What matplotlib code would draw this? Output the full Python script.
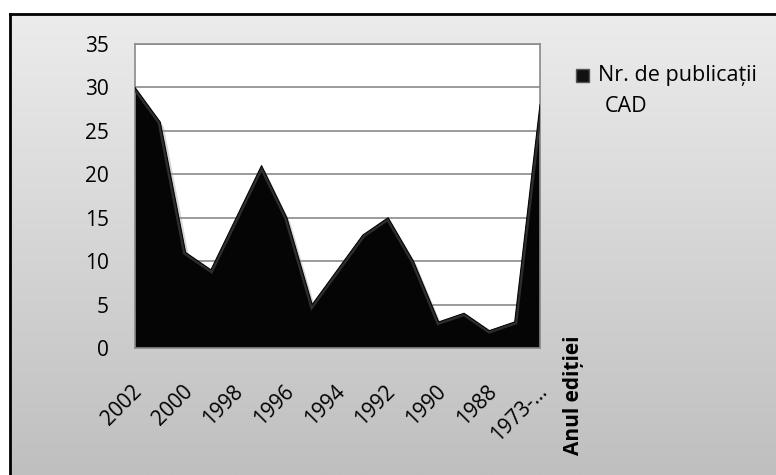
import numpy as np
import matplotlib.pyplot as plt
import matplotlib.transforms as mtransforms
from matplotlib.patches import Rectangle, Polygon
from matplotlib.colors import LinearSegmentedColormap

plt.rcParams['font.family'] = ['Open Sans', 'DejaVu Sans']

# Nr. de publicatii CAD pe an (citit din grafic)
ani = ['2002', '2001', '2000', '1999', '1998', '1997', '1996', '1995', '1994',
       '1993', '1992', '1991', '1990', '1989', '1988', '1987', '1973-…']
publicatii = [30, 26, 11, 9, 15, 21, 15, 5, 9, 13, 15, 10, 3, 4, 2, 3, 28]
y_ticks = [0, 5, 10, 15, 20, 25, 30, 35]

fig = plt.figure(figsize=(7.76, 4.75), dpi=100)
fig.patch.set_facecolor('white')

# fundal cu gradient (chenarul graficului)
bg = fig.add_axes([10 / 776, 0, 1 - 10 / 776, 1 - 14 / 475], zorder=0)
grad = np.linspace(0, 1, 256).reshape(-1, 1)
bg.imshow(grad, aspect='auto', cmap=LinearSegmentedColormap.from_list('g', ['#ececec', '#bfbfbf']),
          extent=[0, 1, 0, 1], origin='upper')
bg.axis('off')
fig.add_artist(plt.Line2D([10 / 776, 10 / 776], [0, 1 - 14 / 475], color='black', lw=2))
fig.add_artist(plt.Line2D([10 / 776, 1], [1 - 14 / 475, 1 - 14 / 475], color='black', lw=2))

ax = fig.add_axes([135 / 776, 1 - 348 / 475, 405 / 776, 304 / 475], zorder=2)
ax.set_facecolor('white')
x = np.arange(len(ani))

# umbra
ax.fill_between(x + 0.12, np.array(publicatii) - 0.5, 0, color='#9a9a9a', alpha=0.4,
                lw=0, zorder=1)
pts = np.column_stack([np.r_[x, x[::-1]], np.r_[publicatii, np.zeros(len(x))]])
zona = Polygon(pts, closed=True, facecolor='#050505', edgecolor='none', zorder=2)
ax.add_patch(zona)
# efect de relief pe margine
relief, = ax.plot(x, publicatii, color='#2e2e2e', lw=4, zorder=3, solid_joinstyle='miter')
relief.set_clip_path(zona)
ax.plot(x, publicatii, color='#080808', lw=0.8, zorder=4)

ax.set_xlim(0, len(ani) - 1)
ax.set_ylim(0, 35)
ax.set_yticks(y_ticks)
ax.yaxis.grid(True, color='#8a8a8a', lw=1.2)
ax.set_axisbelow(True)
ax.tick_params(axis='y', length=0, labelsize=15, pad=19)
ax.set_xticks(x[::2])
ax.set_xticklabels(ani[::2], rotation=45, ha='right', va='center', rotation_mode='anchor')
ax.tick_params(axis='x', length=0, labelsize=15, pad=29)
offset = mtransforms.ScaledTranslation(4 / 100, 0, fig.dpi_scale_trans)
for lbl in ax.get_xticklabels():
    lbl.set_transform(lbl.get_transform() + offset)
for s in ax.spines.values():
    s.set_color('#8a8a8a')
    s.set_linewidth(1.2)

fig.text(573 / 776, 1 - 395 / 475, 'Anul ediției', rotation=90, fontsize=15,
         fontweight='bold', ha='center', va='center')

# legenda
fig.add_artist(Rectangle((576 / 776, 1 - 82 / 475), 13 / 776, 13 / 475,
                         facecolor='#111111', edgecolor='#555555', lw=1))
fig.text(598 / 776, 1 - 75 / 475, 'Nr. de publicații', fontsize=15.5, va='center')
fig.text(605 / 776, 1 - 107 / 475, 'CAD', fontsize=15.5, va='center')

fig.savefig('out.png', dpi=100)
